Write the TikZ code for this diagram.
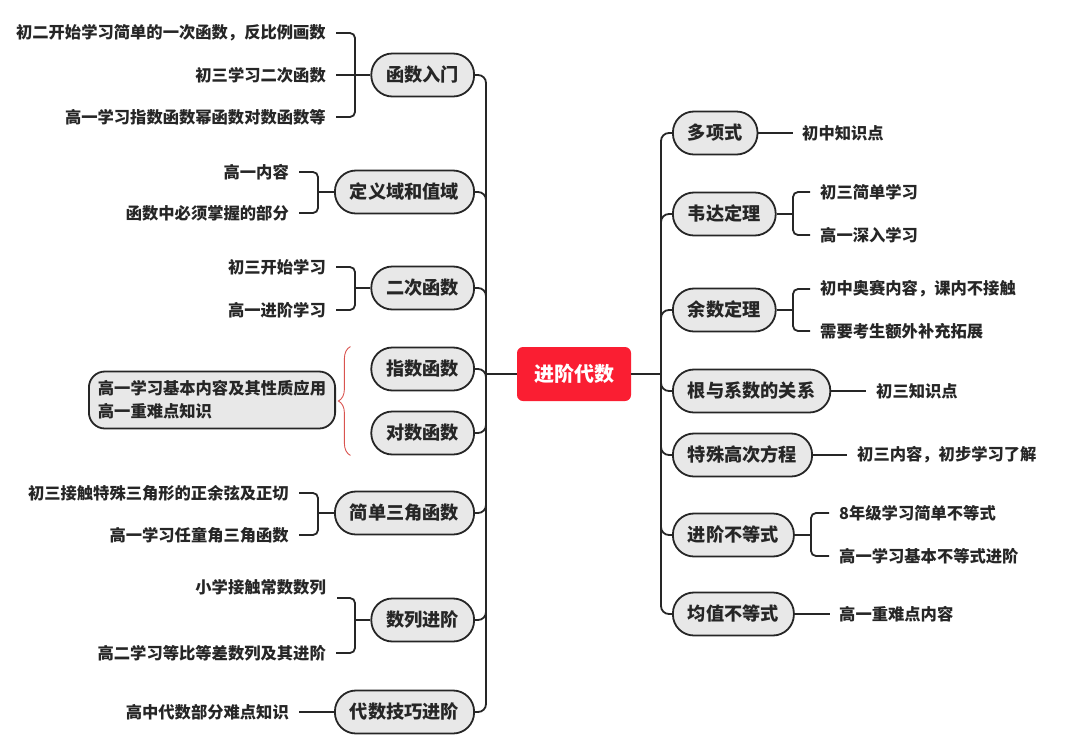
\documentclass[tikz,border=0pt]{standalone}
\usepackage{fontspec}
\setmainfont{Noto Sans CJK SC}
\usetikzlibrary{decorations.pathreplacing}
\definecolor{rootred}{HTML}{FA1E32}
\definecolor{nodefill}{HTML}{E8E8E8}
\definecolor{ink}{HTML}{262626}
\definecolor{bracered}{HTML}{D9534F}
\begin{document}
\begin{tikzpicture}[x=1pt,y=-1pt,
  branch/.style={draw=ink, line width=1.8pt, fill=nodefill, rounded corners=21pt, minimum height=43pt, inner xsep=15pt, inner ysep=0pt, font=\fontsize{18.2}{20}\selectfont\bfseries, text=ink},
  leaf/.style={inner sep=0pt, font=\fontsize{16.3}{18}\selectfont\bfseries, text=ink},
  conn/.style={draw=ink, line width=1.8pt},
  rootbox/.style={fill=rootred, rounded corners=6pt, minimum width=114pt, minimum height=54pt, text=white, font=\fontsize{20}{22}\selectfont\bfseries},
  notebox/.style={draw=ink, line width=1.8pt, fill=nodefill, rounded corners=16pt, minimum height=57pt, align=left, inner xsep=9pt, font=\fontsize{16.3}{23}\selectfont\bfseries, text=ink},
  bracemark/.style={draw=bracered, line width=0.9pt, decorate, decoration={brace, amplitude=12pt}}
]
\useasboundingbox (0,0) rectangle (1080,740);

% root
\node[rootbox] (root) at (574,374) {进阶代数};
\coordinate (L) at (486,374);
\coordinate (R) at (661,374);

% left branches
\node[branch, anchor=east] (hs) at (475,75) {函数入门};
\node[branch, anchor=east] (dy) at (475,192) {定义域和值域};
\node[branch, anchor=east] (ec) at (475,288) {二次函数};
\node[branch, anchor=east] (zs) at (475,369) {指数函数};
\node[branch, anchor=east] (ds) at (475,433) {对数函数};
\node[branch, anchor=east] (sj) at (475,513) {简单三角函数};
\node[branch, anchor=east] (sl) at (475,620) {数列进阶};
\node[branch, anchor=east] (dj) at (475,712) {代数技巧进阶};

% right branches
\node[branch, anchor=west] (dx) at (672,133) {多项式};
\node[branch, anchor=west] (wd) at (672,214) {韦达定理};
\node[branch, anchor=west] (ys) at (672,310) {余数定理};
\node[branch, anchor=west] (gy) at (672,391) {根与系数的关系};
\node[branch, anchor=west] (ts) at (672,455) {特殊高次方程};
\node[branch, anchor=west] (jb) at (672,535) {进阶不等式};
\node[branch, anchor=west] (jz) at (672,614) {均值不等式};

% trunks
\draw[conn] (root.west) -- (L);
\draw[conn] (root.east) -- (R);
\draw[conn] ([yshift=-10pt]L |- hs.east) -- ([yshift=10pt]L |- dj.east);
\draw[conn] ([yshift=-10pt]R |- dx.west) -- ([yshift=10pt]R |- jz.west);

\foreach \n in {hs,dy,ec,zs}
  \draw[conn, rounded corners=8pt] (\n.east) -| ([yshift=-10pt]L |- \n.east);
\foreach \n in {ds,sj,sl,dj}
  \draw[conn, rounded corners=8pt] (\n.east) -| ([yshift=10pt]L |- \n.east);
\foreach \n in {dx,wd,ys}
  \draw[conn, rounded corners=8pt] (\n.west) -| ([yshift=-10pt]R |- \n.west);
\foreach \n in {gy,ts,jb,jz}
  \draw[conn, rounded corners=8pt] (\n.west) -| ([yshift=10pt]R |- \n.west);

% ---- left leaves ----
\node[leaf, anchor=east] (hs1) at (326,33) {初二开始学习简单的一次函数，反比例画数};
\node[leaf, anchor=east] (hs2) at (326,75) {初三学习二次函数};
\node[leaf, anchor=east] (hs3) at (326,117) {高一学习指数函数幂函数对数函数等};
\coordinate (hsb) at (355,75);
\draw[conn, rounded corners=5pt] ([xshift=10pt]hs1.east) -| (hsb) |- ([xshift=10pt]hs3.east);
\draw[conn] ([xshift=10pt]hs2.east) -- (hs.west);

\node[leaf, anchor=east] (dy1) at (289,172) {高一内容};
\node[leaf, anchor=east] (dy2) at (289,213) {函数中必须掌握的部分};
\coordinate (dyb) at (318,192);
\draw[conn, rounded corners=5pt] ([xshift=10pt]dy1.east) -| (dyb) |- ([xshift=10pt]dy2.east);
\draw[conn] (dyb) -- (dy.west);

\node[leaf, anchor=east] (ec1) at (326,267) {初三开始学习};
\node[leaf, anchor=east] (ec2) at (326,310) {高一进阶学习};
\coordinate (ecb) at (355,288);
\draw[conn, rounded corners=5pt] ([xshift=10pt]ec1.east) -| (ecb) |- ([xshift=10pt]ec2.east);
\draw[conn] (ecb) -- (ec.west);

\node[notebox, anchor=west] (nt) at (88,400) {高一学习基本内容及其性质应用\\高一重难点知识};
\draw[bracemark] ([xshift=-20pt]ds.south west) -- ([xshift=-20pt]zs.north west);

\node[leaf, anchor=east] (sj1) at (289,493) {初三接触特殊三角形的正余弦及正切};
\node[leaf, anchor=east] (sj2) at (289,535) {高一学习任童角三角函数};
\coordinate (sjb) at (318,513);
\draw[conn, rounded corners=5pt] ([xshift=10pt]sj1.east) -| (sjb) |- ([xshift=10pt]sj2.east);
\draw[conn] (sjb) -- (sj.west);

\node[leaf, anchor=east] (sl1) at (326,587) {小学接触常数数列};
\node[leaf, anchor=east] (sl2) at (326,653) {高二学习等比等差数列及其进阶};
\coordinate (slt) at (337,598);
\coordinate (slb) at (355,620);
\draw[conn, rounded corners=5pt] (slt) -| (slb) |- ([xshift=10pt]sl2.east);
\draw[conn] (slb) -- (sl.west);

\node[leaf, anchor=east] (dj1) at (289,712) {高中代数部分难点知识};
\draw[conn] ([xshift=10pt]dj1.east) -- (dj.west);

% ---- right leaves ----
\node[leaf, anchor=west] (dx1) at (802,133) {初中知识点};
\draw[conn] (dx.east) -- ([xshift=-9pt]dx1.west);

\node[leaf, anchor=west] (wd1) at (820,192) {初三简单学习};
\node[leaf, anchor=west] (wd2) at (820,235) {高一深入学习};
\coordinate (wdb) at (793,214);
\draw[conn] (wd.east) -- (wdb);
\draw[conn, rounded corners=5pt] ([xshift=-10pt]wd1.west) -| (wdb) |- ([xshift=-10pt]wd2.west);

\node[leaf, anchor=west] (ys1) at (820,289) {初中奥赛内容，课内不接触};
\node[leaf, anchor=west] (ys2) at (820,331) {需要考生额外补充拓展};
\coordinate (ysb) at (793,310);
\draw[conn] (ys.east) -- (ysb);
\draw[conn, rounded corners=5pt] ([xshift=-10pt]ys1.west) -| (ysb) |- ([xshift=-10pt]ys2.west);

\node[leaf, anchor=west] (gy1) at (876,391) {初三知识点};
\draw[conn] (gy.east) -- ([xshift=-10pt]gy1.west);

\node[leaf, anchor=west] (ts1) at (857,455) {初三内容，初步学习了解};
\draw[conn] (ts.east) -- ([xshift=-10pt]ts1.west);

\node[leaf, anchor=west] (jb1) at (839,513) {8年级学习简单不等式};
\node[leaf, anchor=west] (jb2) at (839,556) {高一学习基本不等式进阶};
\coordinate (jbb) at (811,535);
\draw[conn] (jb.east) -- (jbb);
\draw[conn, rounded corners=5pt] ([xshift=-10pt]jb1.west) -| (jbb) |- ([xshift=-10pt]jb2.west);

\node[leaf, anchor=west] (jz1) at (839,614) {高一重难点内容};
\draw[conn] (jz.east) -- ([xshift=-9pt]jz1.west);
\end{tikzpicture}
\end{document}
